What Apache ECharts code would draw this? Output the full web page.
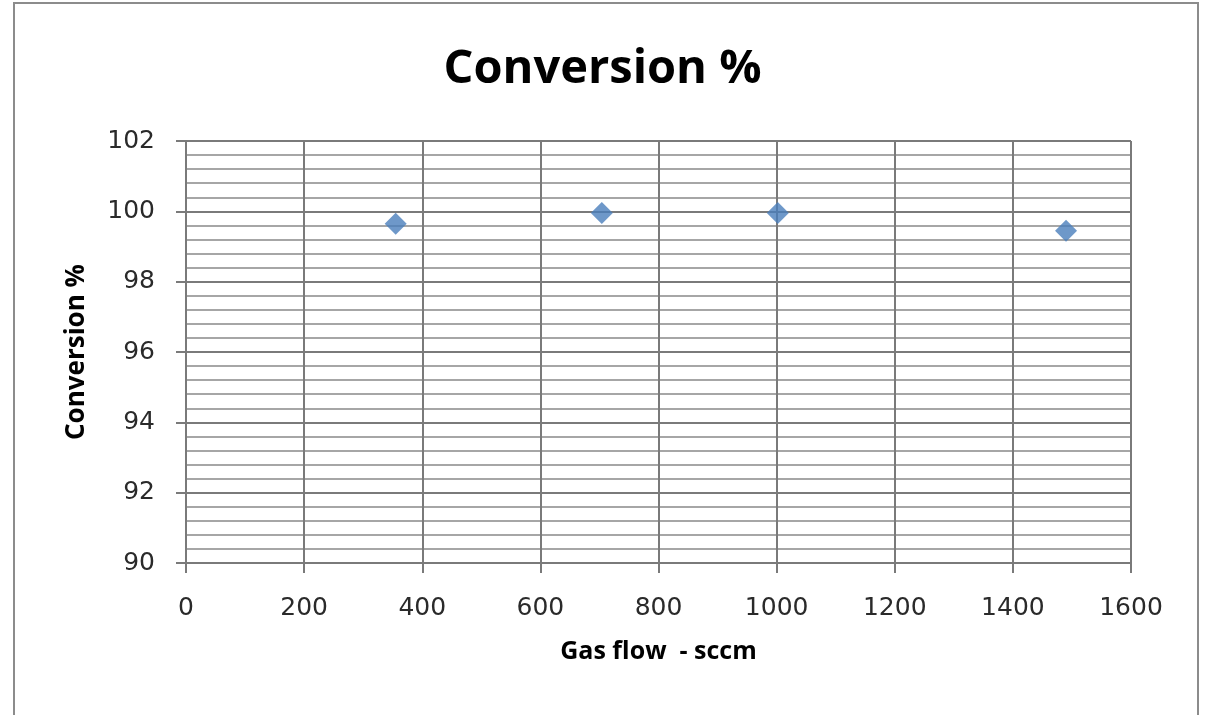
<!DOCTYPE html>
<html>
<head>
<meta charset="utf-8">
<script src="https://cdn.jsdelivr.net/npm/echarts@6/dist/echarts.min.js"></script>
<style>
  html, body { margin: 0; padding: 0; background: #fff; }
  #chart { width: 1205px; height: 715px; }
</style>
</head>
<body>
<div id="chart"></div>
<script>
// Gas flow (sccm) and measured conversion (%)
const gasFlow = [355, 704, 1002, 1490];
const conversion = [99.65, 99.95, 99.95, 99.45];

const titleText = 'Conversion %';
const xAxisName = 'Gas flow  - sccm';
const yAxisName = 'Conversion %';

const points = gasFlow.map((x, i) => [x, conversion[i]]);

const chart = echarts.init(document.getElementById('chart'));
const boldFont = '"Open Sans", "DejaVu Sans", sans-serif';
const tickFont = '"DejaVu Sans", "Open Sans", sans-serif';

chart.setOption({
  animation: false,
  backgroundColor: '#ffffff',
  graphic: [{
    type: 'rect',
    shape: { x: 14, y: 3, width: 1184, height: 720 },
    style: { fill: 'none', stroke: '#8c8c8c', lineWidth: 2 },
    silent: true
  }],
  title: {
    text: titleText,
    left: 'center',
    top: 41,
    textStyle: {
      fontFamily: boldFont,
      fontWeight: 'bold',
      fontSize: 47,
      color: '#000'
    }
  },
  grid: { left: 186, right: 74, top: 141, bottom: 152 },
  xAxis: {
    type: 'value',
    min: 0,
    max: 1600,
    interval: 200,
    name: xAxisName,
    nameLocation: 'middle',
    nameGap: 76,
    nameTextStyle: { fontFamily: boldFont, fontWeight: 'bold', fontSize: 25, color: '#000' },
    axisLine: { show: true, lineStyle: { color: '#7a7a7a', width: 2 } },
    axisTick: { show: true, length: 10, lineStyle: { color: '#7a7a7a', width: 2 } },
    axisLabel: { margin: 33, fontFamily: tickFont, fontSize: 25, color: '#2a2a2a', formatter: v => String(v) },
    splitLine: { show: true, lineStyle: { color: '#7a7a7a', width: 2 } }
  },
  yAxis: {
    type: 'value',
    min: 90,
    max: 102,
    interval: 2,
    name: yAxisName,
    nameLocation: 'middle',
    nameGap: 96,
    nameRotate: 90,
    nameTextStyle: { fontFamily: boldFont, fontWeight: 'bold', fontSize: 26, color: '#000' },
    axisLine: { show: true, lineStyle: { color: '#7a7a7a', width: 2 } },
    axisTick: { show: true, length: 10, lineStyle: { color: '#7a7a7a', width: 2 } },
    axisLabel: { margin: 31, fontFamily: tickFont, fontSize: 25, color: '#2a2a2a', formatter: v => String(v) },
    splitLine: { show: true, lineStyle: { color: '#7a7a7a', width: 2 } },
    minorTick: { show: false, splitNumber: 5 },
    minorSplitLine: { show: true, lineStyle: { color: '#a6a6a6', width: 2 } }
  },
  series: [{
    type: 'scatter',
    data: points,
    symbol: 'diamond',
    symbolSize: 22,
    itemStyle: { color: '#4a7ebb' }
  }]
});
</script>
</body>
</html>
